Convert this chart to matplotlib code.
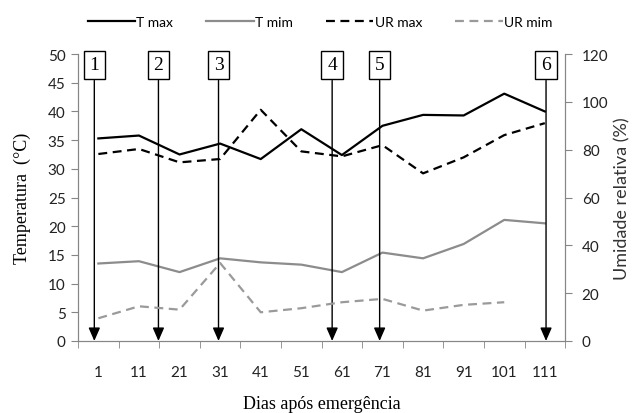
import numpy as np
import matplotlib.pyplot as plt

days = [1, 11, 21, 31, 41, 51, 61, 71, 81, 91, 101, 111]
t_max = [35.3, 35.8, 32.5, 34.4, 31.7, 36.9, 32.4, 37.5, 39.4, 39.3, 43.1, 40.0]
t_min = [13.5, 13.9, 12.0, 14.4, 13.7, 13.3, 12.0, 15.4, 14.4, 16.9, 21.1, 20.5]
ur_max = [78.2, 80.3, 74.7, 76.1, 96.7, 79.3, 77.2, 81.9, 70.1, 76.8, 86.1, 91.1]
ur_min = [9.5, 14.5, 13.1, 32.6, 12.0, 13.7, 16.2, 17.6, 12.7, 15.1, 16.2, np.nan]

stage_labels = ['1', '2', '3', '4', '5', '6']
stage_days = [0.0, 15.8, 30.6, 58.6, 70.3, 111.3]

sans = 'Lato'
serif = 'Liberation Serif'
axis_gray = '#868686'

fig = plt.figure(figsize=(6.4, 4.14), dpi=100)
ax = fig.add_axes([0.122, 0.174, 0.761, 0.693])
ax2 = ax.twinx()

l1, = ax.plot(days, t_max, color='black', lw=1.6, label='T max')
l2, = ax.plot(days, t_min, color='#8c8c8c', lw=1.6, label='T mim')
l3, = ax2.plot(days, ur_max, color='black', lw=1.6, ls=(0, (4, 2.5)), label='UR max')
l4, = ax2.plot(days, ur_min, color='#9a9a9a', lw=1.6, ls=(0, (4, 2.5)), label='UR mim')

ax.set_xlim(-4, 116)
ax.set_ylim(0, 50)
ax2.set_ylim(0, 120)
ax.set_yticks(np.arange(0, 51, 5))
ax2.set_yticks(np.arange(0, 121, 20))
ax.set_xticks(days)
ax.set_xticks(np.arange(-4, 117, 10), minor=True)
ax.tick_params(axis='x', which='major', length=0, pad=17, labelsize=11)
ax.tick_params(axis='x', which='minor', length=5, color=axis_gray, direction='out')
ax.tick_params(axis='y', length=5, color=axis_gray, labelsize=11, pad=4)
ax2.tick_params(axis='y', length=5, color=axis_gray, labelsize=11, pad=7)
for a in (ax, ax2):
    for lab in a.get_xticklabels() + a.get_yticklabels():
        lab.set_fontfamily(sans)
        lab.set_color('#222222')
    a.spines['top'].set_visible(False)
    for s in ('left', 'right', 'bottom'):
        a.spines[s].set_color(axis_gray)

ax.set_ylabel('Temperatura  (°C)', fontfamily=serif, fontsize=13, labelpad=12)
ax2.set_ylabel('Umidade relativa (%)', fontfamily=sans, fontsize=13, labelpad=4, color='#333333')
ax.set_xlabel('Dias após emergência', fontfamily=serif, fontsize=13, labelpad=12)

for lab, d in zip(stage_labels, stage_days):
    ax.annotate('', xy=(d, 0), xytext=(d, 45.4),
                arrowprops=dict(arrowstyle='-|>,head_width=0.35,head_length=0.8',
                                color='black', lw=1.0, shrinkA=0, shrinkB=0),
                annotation_clip=False)
    ax.text(d, 48.1, lab, ha='center', va='center', fontfamily=serif, fontsize=14,
            clip_on=False,
            bbox=dict(boxstyle='square,pad=0.3', fc='white', ec='black', lw=1.0))

fig.legend(handles=[l1, l2, l3, l4], loc='upper center', bbox_to_anchor=(0.5, 0.99),
           ncol=4, frameon=False, prop={'family': sans, 'size': 10},
           handlelength=3.4, handletextpad=0.1, columnspacing=2.4)

fig.savefig('out.png', dpi=100)
